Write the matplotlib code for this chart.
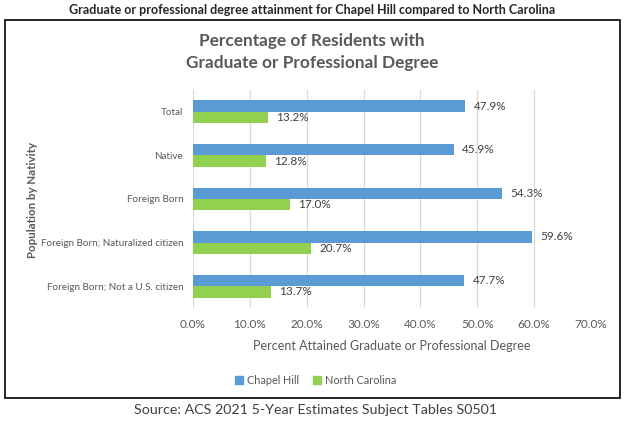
import matplotlib
matplotlib.use("Agg")
import matplotlib.pyplot as plt
from matplotlib.patches import Rectangle, Patch

categories = ["Total", "Native", "Foreign Born", "Foreign Born; Naturalized citizen",
              "Foreign Born; Not a U.S. citizen"]
chapel_hill = [47.9, 45.9, 54.3, 59.6, 47.7]
north_carolina = [13.2, 12.8, 17.0, 20.7, 13.7]
xticks = [0, 10, 20, 30, 40, 50, 60, 70]

plt.rcParams['font.family'] = ['Lato', 'DejaVu Sans']

W, H = 626, 422
fig = plt.figure(figsize=(W / 100, H / 100), dpi=100)
ax = fig.add_axes([193 / W, 1 - 308 / H, (591 - 193) / W, (308 - 90) / H])

blue = "#5B9BD5"
green = "#92D050"
txt = "#595959"

y = list(range(len(categories)))
h = 0.26
ax.barh([v - h / 2 for v in y], chapel_hill, height=h, color=blue, zorder=3)
ax.barh([v + h / 2 for v in y], north_carolina, height=h, color=green, zorder=3)
for i, (a, b) in enumerate(zip(chapel_hill, north_carolina)):
    ax.annotate(f"{a:.1f}%", (a, i - h / 2), xytext=(6, 0), textcoords="offset points",
                va="center", ha="left", fontsize=8.5, color="#404040")
    ax.annotate(f"{b:.1f}%", (b, i + h / 2), xytext=(6, 0), textcoords="offset points",
                va="center", ha="left", fontsize=8.5, color="#404040")

ax.set_xlim(0, 70)
ax.set_ylim(len(categories) - 0.5, -0.5)
ax.set_xticks(xticks)
ax.set_xticklabels([f"{t:.1f}%" for t in xticks], fontsize=8.5, color=txt)
ax.set_yticks(y)
ax.set_yticklabels(categories, fontsize=7.1, color=txt)
ax.tick_params(length=0, pad=8)
ax.tick_params(axis='y', pad=7)
ax.grid(axis='x', color="#D9D9D9", linewidth=0.9, zorder=0)
for s in ax.spines.values():
    s.set_visible(False)

ax.set_xlabel("Percent Attained Graduate or Professional Degree", fontsize=9, color=txt, labelpad=7)
fig.text(32 / W, 1 - 200 / H, "Population by Nativity", rotation=90, ha="center", va="center",
         fontsize=8.3, fontweight="bold", color=txt)

fig.text(312 / W, 1 - 41 / H, "Percentage of Residents with", ha="center", va="center",
         fontsize=12.4, fontweight="bold", color=txt)
fig.text(312 / W, 1 - 63 / H, "Graduate or Professional Degree", ha="center", va="center",
         fontsize=12.4, fontweight="bold", color=txt)

fig.text(312 / W, 1 - 10 / H, "Graduate or professional degree attainment for Chapel Hill compared to North Carolina",
         ha="center", va="center", fontsize=9, fontweight="bold", color="#262626")
fig.text(316 / W, 1 - 410 / H, "Source: ACS 2021 5-Year Estimates Subject Tables S0501",
         ha="center", va="center", fontsize=10.3, color="#404040")

fig.patches.append(Rectangle((5 / W, 1 - 398 / H), (620 - 5) / W, (398 - 20) / H,
                             transform=fig.transFigure, fill=False, edgecolor="black",
                             linewidth=1.2))

handles = [Patch(color=blue, label="Chapel Hill"), Patch(color=green, label="North Carolina")]
fig.legend(handles=handles, loc="center", bbox_to_anchor=(316 / W, 1 - 380 / H), ncol=2,
           frameon=False, fontsize=7.8, handlelength=0.7, handleheight=0.7, handletextpad=0.4,
           columnspacing=1.3, labelcolor=txt)

fig.savefig("out.png", dpi=100)
